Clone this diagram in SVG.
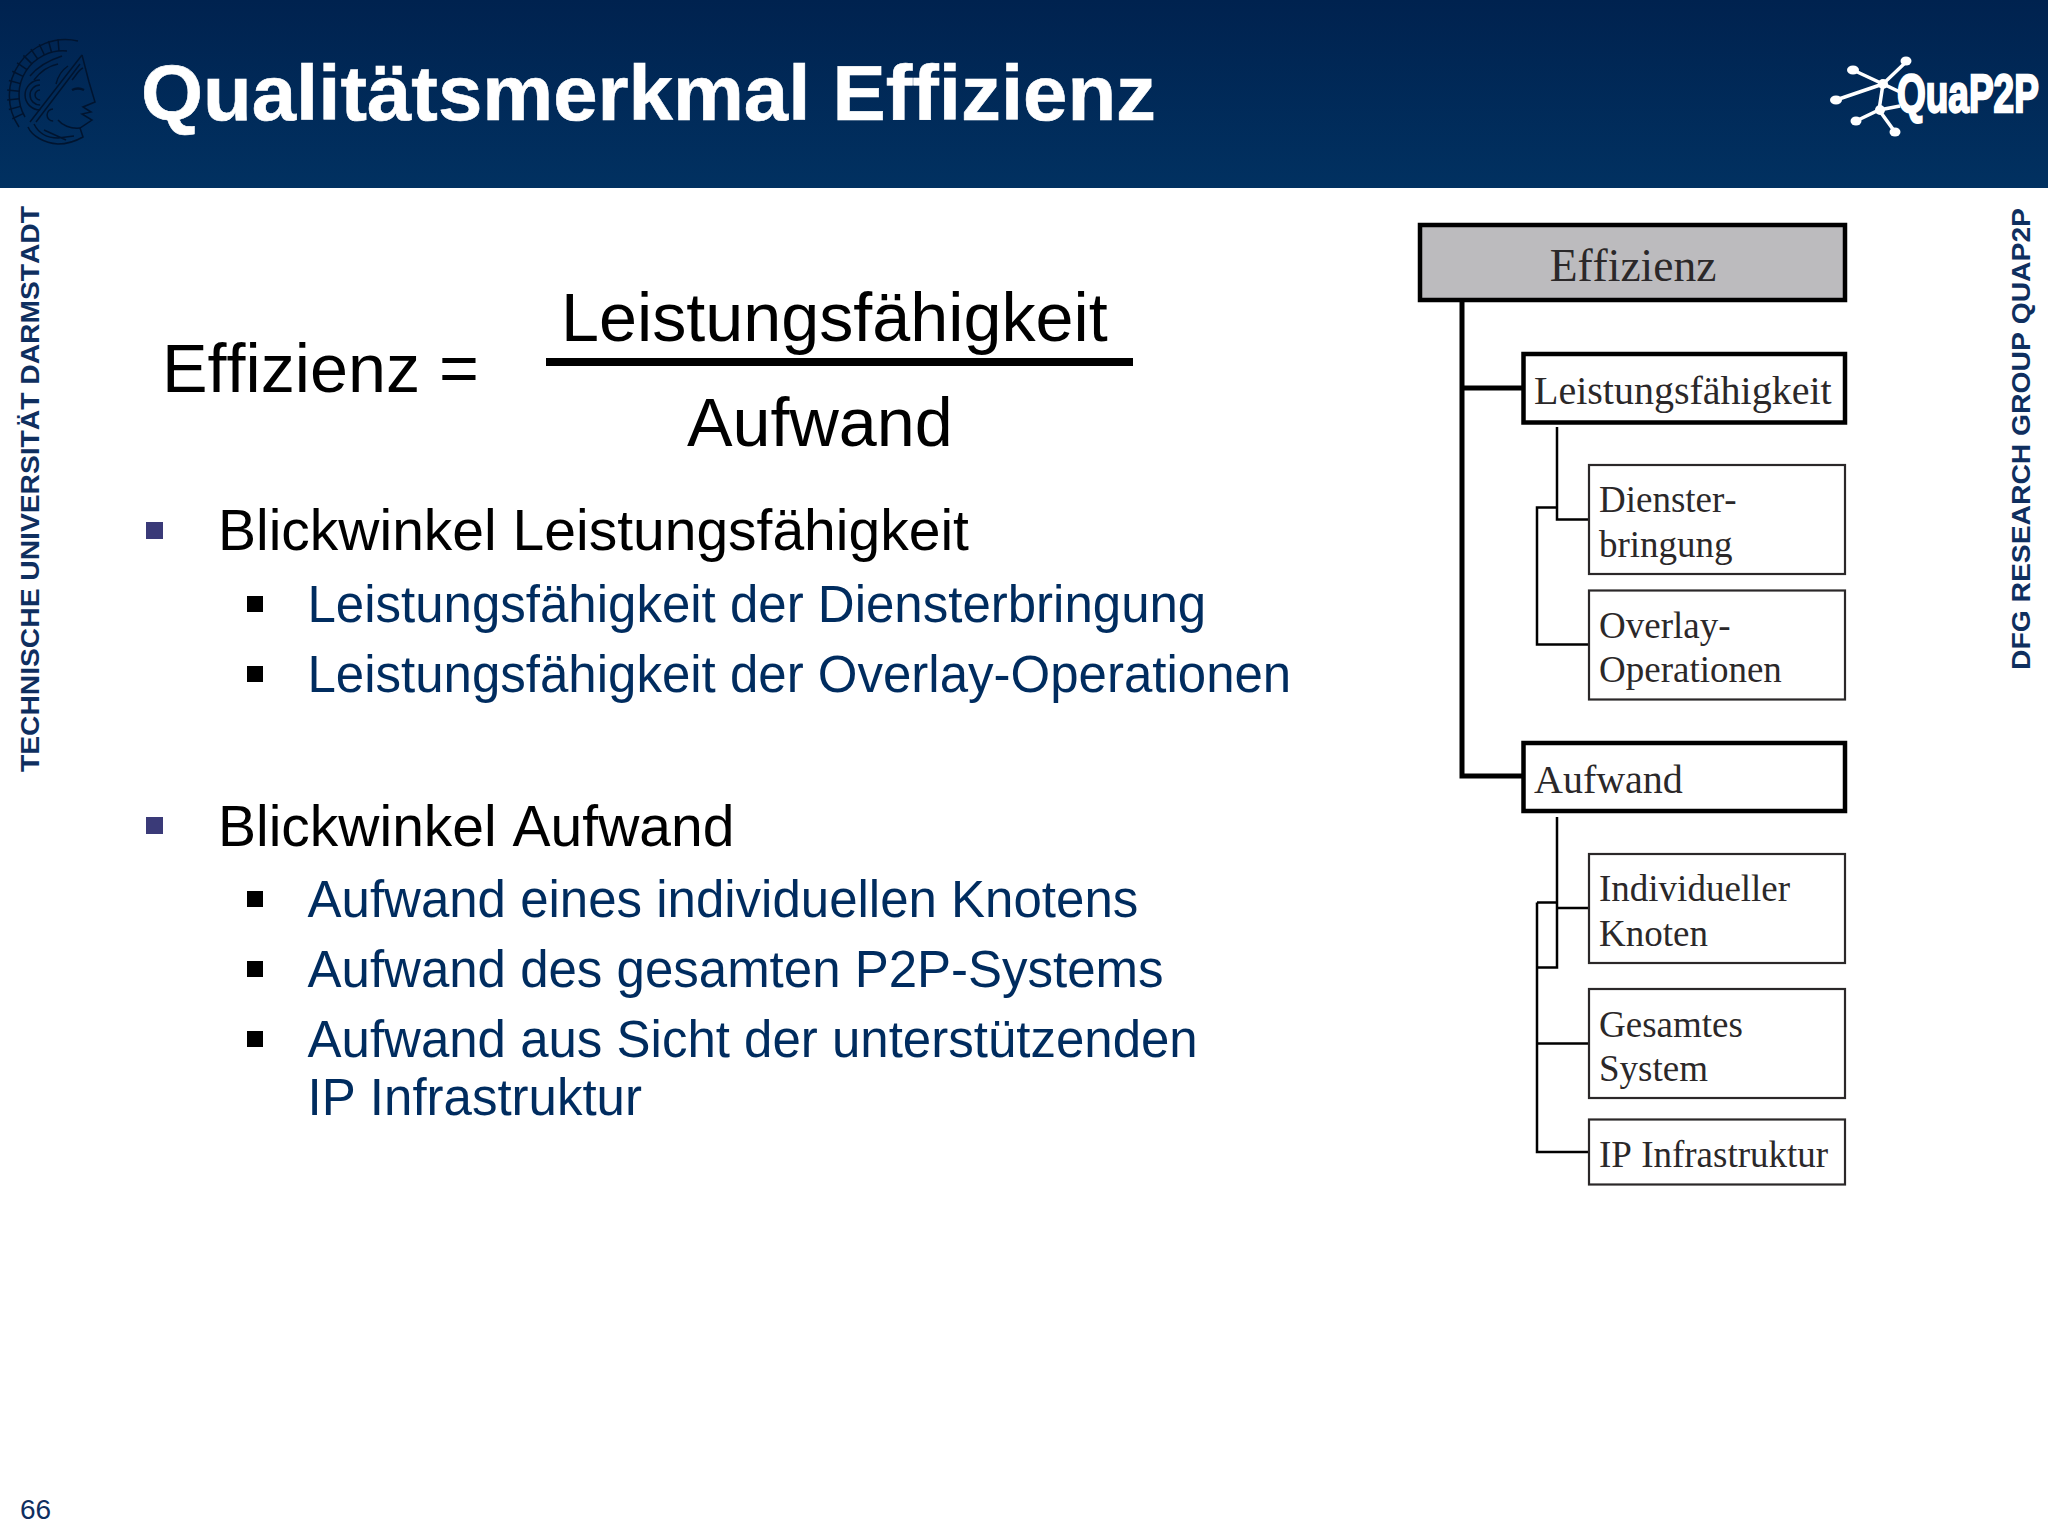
<svg xmlns="http://www.w3.org/2000/svg" width="2048" height="1536" viewBox="0 0 2048 1536">
<defs>
<linearGradient id="hdr" x1="0" y1="0" x2="0" y2="1"><stop offset="0" stop-color="#00224f"/><stop offset="1" stop-color="#013161"/></linearGradient>
</defs>
<style>
.s{font-family:"Liberation Sans",Arial,sans-serif;font-kerning:none}
.t{font-family:"Liberation Serif","Times New Roman",serif;fill:#2b2829;font-kerning:none}
.l1{font-size:57px;fill:#000}
.l2{font-size:51px;fill:#002c5f}
.f{font-size:68.300px;fill:#000}
.b1{fill:#3a3a78}
.b2{fill:#000}
.thick{fill:none;stroke:#000;stroke-width:5}
.thin{fill:none;stroke:#000;stroke-width:2.5}
.nb{fill:#fff;stroke:#000;stroke-width:4.500}
.nt{fill:#fff;stroke:#2b2829;stroke-width:2.2}
.h{fill:none;stroke:#00142f;stroke-width:1.500}
</style>
<rect width="2048" height="1536" fill="#fff"/>
<rect width="2048" height="188" fill="url(#hdr)"/>
<g id="emblem" class="h" transform="translate(-3 0)">
<path d="M81 41A56 56 0 0 0 22 127M70 51A44 44 0 0 0 28 117"/>
<path d="M61 39L62 51M51.500 41L54.600 52.500M42.300 44.300L47.400 55M33.900 49.100L40.700 59M26.400 55.400L34.900 63.900M20.100 62.900L30 69.700M15.300 71.300L26.100 76.400M11.900 80.500L23.500 83.600M10.200 90.100L22.200 91.200M10.200 99.900L22.200 98.800M11.900 109.500L23.500 106.400M15.300 118.700L26.100 113.600"/>
<path d="M85 55L92 82L98 102L86 107L94 112L85 114L95 120L83 128C73 129 65 125 61 120"/>
<path d="M85 55L33 122M83 64L39 122M86 68C81 70 79 76 75 80"/>
<path d="M43 80A15 15 0 1 0 43.100 110M43 85A10 10 0 1 0 43.100 105M43 90A5 5 0 1 0 43.100 100"/>
<path d="M65 56C53 60 41 66 33 76M61 64C51 66 43 72 37 80M71 66C65 70 61 76 59 84"/>
<path d="M56 109A6 6 0 1 0 56.100 121M31 127C35 136 47 143 61 144C71 144 79 141 86 137L83 128M37 124C41 132 49 138 61 138L77 136M47 130L69 140"/>
<path d="M75 90C79 88 83 88 87 90" stroke-width="2.500"/>
</g>
<text class="s" x="141" y="120" font-size="78" font-weight="700" fill="#fff" stroke="#fff" stroke-width="0.6" textLength="1015" lengthAdjust="spacingAndGlyphs">Qualitätsmerkmal Effizienz</text>
<g id="logo" fill="#fff">
<g stroke="#fff" stroke-width="3.500" fill="none">
<path d="M1853 70L1883 84L1906 62M1836 100L1883 84L1900 92M1883 84L1879 110L1900 106M1856 121L1879 110L1895 132"/>
</g>
<ellipse cx="1853" cy="70" rx="6" ry="4.500"/><ellipse cx="1906" cy="61" rx="5.500" ry="4.500"/><ellipse cx="1836" cy="100" rx="6" ry="4.500"/><ellipse cx="1856" cy="121" rx="5.500" ry="4.500"/><ellipse cx="1895" cy="132" rx="5.500" ry="4.500"/><circle cx="1883" cy="84" r="5"/><circle cx="1880" cy="110" r="5"/>
<text class="s" transform="translate(1897 112) scale(1 1.430)" font-size="37" font-weight="700" stroke="#fff" stroke-width="1.600">QuaP2P</text>
</g>
<text class="s" transform="translate(38.500 772) rotate(-90)" font-size="26" font-weight="700" fill="#0f2f5f" textLength="566" lengthAdjust="spacingAndGlyphs">TECHNISCHE UNIVERSITÄT DARMSTADT</text>
<text class="s" transform="translate(2030 670) rotate(-90)" font-size="26" font-weight="700" fill="#0f2f5f" textLength="462" lengthAdjust="spacingAndGlyphs">DFG RESEARCH GROUP QUAP2P</text>
<text class="s" x="20" y="1519" font-size="28" fill="#0f2f5f">66</text>
<g id="formula">
<text class="s f" x="162" y="392">Effizienz =</text>
<text class="s f" x="561" y="341">Leistungsfähigkeit</text>
<rect x="546" y="358" width="587" height="8" fill="#000"/>
<text class="s f" x="687" y="446">Aufwand</text>
</g>
<g id="bullets">
<rect class="b1" x="146" y="522" width="17" height="17"/>
<text class="s l1" x="218" y="550">Blickwinkel Leistungsfähigkeit</text>
<rect class="b2" x="247" y="596" width="16" height="16"/>
<text class="s l2" x="307.500" y="622">Leistungsfähigkeit der Diensterbringung</text>
<rect class="b2" x="247" y="666" width="16" height="16"/>
<text class="s l2" x="307.500" y="692">Leistungsfähigkeit der Overlay-Operationen</text>
<rect class="b1" x="146" y="817" width="17" height="17"/>
<text class="s l1" x="218" y="846">Blickwinkel Aufwand</text>
<rect class="b2" x="247" y="891" width="16" height="16"/>
<text class="s l2" x="307.500" y="917">Aufwand eines individuellen Knotens</text>
<rect class="b2" x="247" y="961" width="16" height="16"/>
<text class="s l2" x="307.500" y="987">Aufwand des gesamten P2P-Systems</text>
<rect class="b2" x="247" y="1031" width="16" height="16"/>
<text class="s l2" x="307.500" y="1057">Aufwand aus Sicht der unterstützenden</text>
<text class="s l2" x="307.500" y="1115">IP Infrastruktur</text>
</g>
<g id="connectors">
<path class="thick" d="M1462 300V776H1523M1462 388H1523"/>
<path class="thin" d="M1557 427V519.500H1588M1557 507.500H1537V644.500H1588"/>
<path class="thin" d="M1557 817V967.500H1537M1537 902.500H1557M1557 908H1588M1537 902.500V1152H1588M1537 1043.500H1588"/>
</g>
<g id="n-effizienz"><rect x="1420" y="225" width="425" height="75" fill="#bcbbbe" stroke="#000" stroke-width="4.500"/><text class="t" x="1633" y="281" font-size="45.500" text-anchor="middle">Effizienz</text></g>
<g id="n-leistung"><rect class="nb" x="1523.500" y="354" width="321.500" height="68.500"/><text class="t" x="1534" y="404" font-size="40">Leistungsfähigkeit</text></g>
<g id="n-dienst"><rect class="nt" x="1589" y="465" width="256" height="109"/><text class="t" x="1599" y="512" font-size="37">Dienster-</text><text class="t" x="1599" y="557" font-size="37">bringung</text></g>
<g id="n-overlay"><rect class="nt" x="1589" y="590.500" width="256" height="109"/><text class="t" x="1599" y="638" font-size="37">Overlay-</text><text class="t" x="1599" y="682" font-size="37">Operationen</text></g>
<g id="n-aufwand"><rect class="nb" x="1523.500" y="743" width="321.500" height="68"/><text class="t" x="1534" y="793" font-size="40">Aufwand</text></g>
<g id="n-indiv"><rect class="nt" x="1589" y="854" width="256" height="109"/><text class="t" x="1599" y="901" font-size="37">Individueller</text><text class="t" x="1599" y="946" font-size="37">Knoten</text></g>
<g id="n-gesamt"><rect class="nt" x="1589" y="989" width="256" height="109"/><text class="t" x="1599" y="1037" font-size="37">Gesamtes</text><text class="t" x="1599" y="1081" font-size="37">System</text></g>
<g id="n-ip"><rect class="nt" x="1589" y="1119.500" width="256" height="65"/><text class="t" x="1599" y="1167" font-size="37">IP Infrastruktur</text></g>
</svg>
